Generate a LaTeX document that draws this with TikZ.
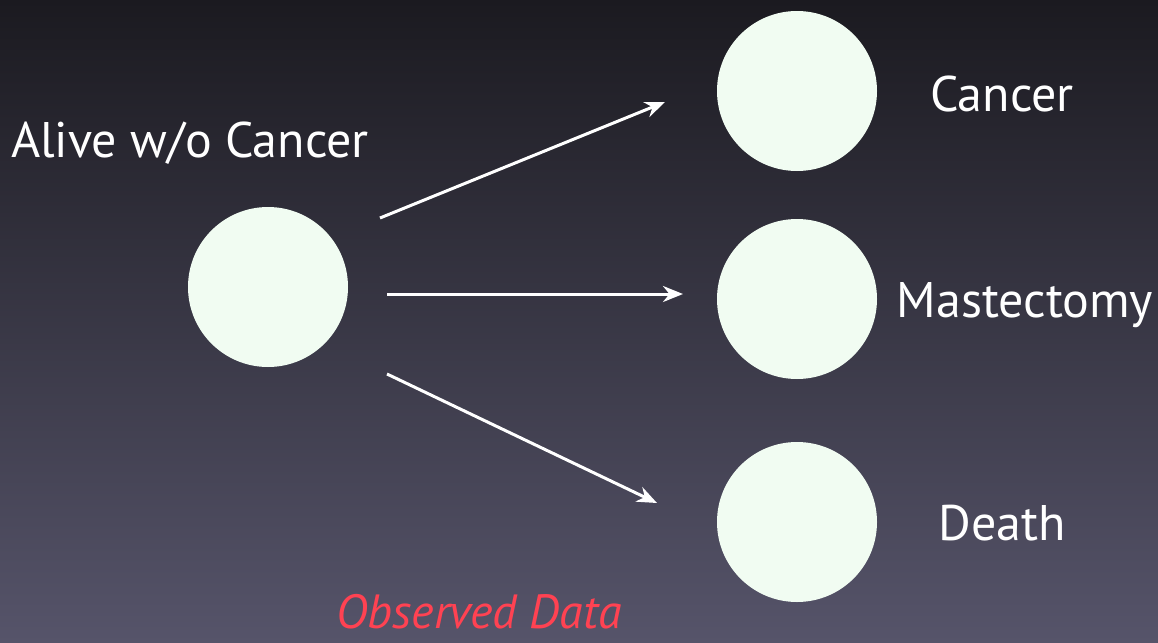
\documentclass[tikz,border=0pt]{standalone}
\usepackage{fontspec}
\setmainfont{PT Sans}
\usetikzlibrary{arrows.meta}
\definecolor{bgtop}{HTML}{1B1A20}
\definecolor{bgbot}{HTML}{56546A}
\definecolor{dot}{HTML}{F1FCF2}
\definecolor{obs}{HTML}{FF4252}
\tikzset{
  state/.style={circle, fill=dot, minimum size=80pt, inner sep=0pt},
  lbl/.style={text=white, font=\fontsize{25}{30}\selectfont, inner sep=0pt, anchor=base},
  arr/.style={white, line width=1.5pt, -{Stealth[length=10pt,width=8pt]}}
}
\begin{document}
\begin{tikzpicture}[x=0.5pt,y=-0.5pt]
\shade[top color=bgtop, bottom color=bgbot] (0,0) rectangle (1158,643);
\useasboundingbox (0,0) rectangle (1158,643);
\node[state] (alive) at (268,287) {};
\node[state] (cancer) at (797,91) {};
\node[state] (mast) at (797,299) {};
\node[state] (death) at (797,522) {};
\node[lbl] (alivel) at (190,157) {Alive w/o Cancer};
\node[lbl] (cancerl) at (1002,111) {Cancer};
\node[lbl] (mastl) at (1025,317) {Mastectomy};
\node[lbl] (deathl) at (1002,540) {Death};
\node[lbl, text depth=0pt, text=obs, font=\fontsize{24}{28}\selectfont\itshape] (obsl) at (479,628) {Observed Data};
\coordinate (a1s) at (380,218); \coordinate (a1e) at (665,102);
\coordinate (a2s) at (387,294); \coordinate (a2e) at (683,294);
\coordinate (a3s) at (387,374); \coordinate (a3e) at (657,503);
\draw[arr] (a1s) -- (a1e);
\draw[arr] (a2s) -- (a2e);
\draw[arr] (a3s) -- (a3e);
\end{tikzpicture}
\end{document}
